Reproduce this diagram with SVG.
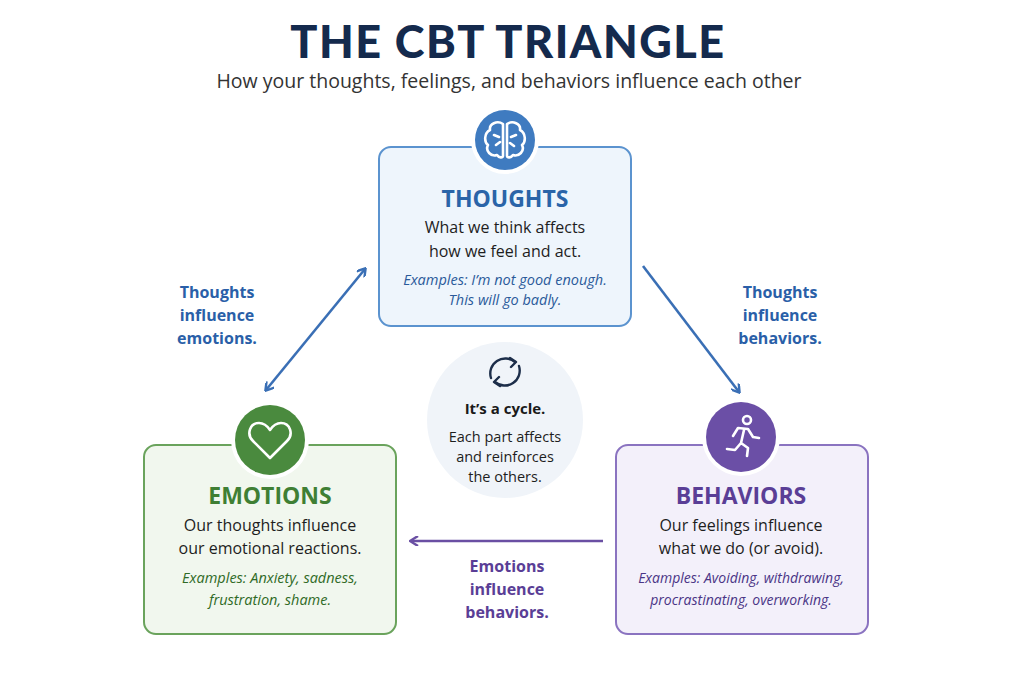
<svg xmlns="http://www.w3.org/2000/svg" width="1024" height="683" viewBox="0 0 1024 683">
<style>
text{font-family:"Open Sans","Liberation Sans",sans-serif;text-anchor:middle}
.ttl{font-size:23px;font-weight:bold}
.body{font-size:16px;fill:#1e1e1e}
.ex{font-size:14.5px;font-style:italic}
.lbl{font-size:16px;font-weight:bold}
.ic{fill:none;stroke:#fff;stroke-width:2.6;stroke-linecap:round;stroke-linejoin:round}
</style>
<defs>
<marker id="ab" markerWidth="10" markerHeight="10" refX="8" refY="5" orient="auto-start-reverse" markerUnits="userSpaceOnUse"><path d="M1,0 L9,5 L1,10" fill="none" stroke="#3a6fb5" stroke-width="2.4"/></marker>
<marker id="ap" markerWidth="10" markerHeight="10" refX="8" refY="5" orient="auto-start-reverse" markerUnits="userSpaceOnUse"><path d="M1,0 L9,5 L1,10" fill="none" stroke="#6a4fa3" stroke-width="2.4"/></marker>
</defs>
<rect width="1024" height="683" fill="#fff"/>
<text x="508" y="58" style="font-family:Lato,sans-serif;font-size:45px;font-weight:900;fill:#142a4d;letter-spacing:1.5px">THE CBT TRIANGLE</text>
<text x="509" y="88" style="font-size:19.5px;fill:#333">How your thoughts, feelings, and behaviors influence each other</text>

<g id="connectors">
<line x1="266" y1="390" x2="365" y2="269" stroke="#3a6fb5" stroke-width="2.6" marker-start="url(#ab)" marker-end="url(#ab)"/>
<line x1="643" y1="266" x2="739" y2="392" stroke="#3a6fb5" stroke-width="2.6" marker-end="url(#ab)"/>
<line x1="603" y1="541" x2="411" y2="541" stroke="#6a4fa3" stroke-width="2.6" marker-end="url(#ap)"/>
<g fill="#2a5fa8"><text x="217" y="298" class="lbl">Thoughts</text><text x="217" y="321" class="lbl">influence</text><text x="217" y="344" class="lbl">emotions.</text>
<text x="780" y="298" class="lbl">Thoughts</text><text x="780" y="321" class="lbl">influence</text><text x="780" y="344" class="lbl">behaviors.</text></g>
<g fill="#5a3e96"><text x="507" y="572" class="lbl">Emotions</text><text x="507" y="595" class="lbl">influence</text><text x="507" y="618" class="lbl">behaviors.</text></g>
</g>

<g id="thoughts">
<rect x="379" y="147" width="252" height="179" rx="12" fill="#eef5fc" stroke="#5b93cf" stroke-width="2"/>
<circle cx="505" cy="140" r="34" fill="#fff"/>
<circle cx="505" cy="140" r="30" fill="#3f7bc0"/>
<path class="ic" d="M503,124 C497,120 489,124 490,130 C484,133 484,142 488,145 C485,151 491,157 497,155 C499,158 503,158 503,156 Z M507,124 C513,120 521,124 520,130 C526,133 526,142 522,145 C525,151 519,157 513,155 C511,158 507,158 507,156 Z M494,135 L499,137 M496,145 L500,142 M516,135 L511,137 M514,146 L510,143"/>
<text x="505" y="207" class="ttl" fill="#2a64a8">THOUGHTS</text>
<text x="505" y="233" class="body">What we think affects</text>
<text x="505" y="257" class="body">how we feel and act.</text>
<text x="505" y="285" class="ex" fill="#2a5a9a">Examples: I’m not good enough.</text>
<text x="505" y="305" class="ex" fill="#2a5a9a">This will go badly.</text>
</g>

<g id="emotions">
<rect x="144" y="445" width="252" height="189" rx="12" fill="#f1f7ee" stroke="#6aa35c" stroke-width="2"/>
<circle cx="270" cy="440" r="39" fill="#fff"/>
<circle cx="270" cy="440" r="35" fill="#4a8a3e"/>
<path class="ic" d="M270,458 L253,441 C246,434 250,423 259,423 C264,423 268,427 270,430 C272,427 276,423 281,423 C290,423 294,434 287,441 Z"/>
<text x="270" y="504" class="ttl" fill="#3f7f34">EMOTIONS</text>
<text x="270" y="531" class="body">Our thoughts influence</text>
<text x="270" y="554" class="body">our emotional reactions.</text>
<text x="270" y="583" class="ex" fill="#2f6a26">Examples: Anxiety, sadness,</text>
<text x="270" y="605" class="ex" fill="#2f6a26">frustration, shame.</text>
</g>

<g id="behaviors">
<rect x="616" y="445" width="252" height="189" rx="12" fill="#f3f0fa" stroke="#8a73c0" stroke-width="2"/>
<circle cx="741" cy="437" r="39" fill="#fff"/>
<circle cx="741" cy="437" r="35" fill="#6b4fa6"/>
<circle class="ic" cx="747" cy="420" r="4"/>
<path class="ic" d="M733,436 L738,428 L748,429 L753,437 L759,438 M744,430 L741,443 L748,448 L747,456 M741,443 L735,450 L727,449"/>
<text x="741" y="504" class="ttl" fill="#5a3e96">BEHAVIORS</text>
<text x="741" y="531" class="body">Our feelings influence</text>
<text x="741" y="554" class="body">what we do (or avoid).</text>
<text x="741" y="583" class="ex" fill="#4a3586" style="font-size:14px">Examples: Avoiding, withdrawing,</text>
<text x="741" y="605" class="ex" fill="#4a3586" style="font-size:14px">procrastinating, overworking.</text>
</g>

<g id="cycle">
<circle cx="505" cy="420" r="78" fill="#f0f4f9"/>
<path d="M491,378 A15,15 0 0 1 515,362 M519,366 A15,15 0 0 1 495,382" fill="none" stroke="#1d2e4a" stroke-width="2.4" stroke-linecap="round"/>
<path d="M510,358 L516,362 L511,367 M500,386 L494,382 L499,377" fill="none" stroke="#1d2e4a" stroke-width="2.4" stroke-linecap="round" stroke-linejoin="round"/>
<text x="505" y="414" style="font-size:15px;font-weight:bold;fill:#1a1a1a">It’s a cycle.</text>
<text x="505" y="442" class="body" style="font-size:14.5px">Each part affects</text>
<text x="505" y="462" class="body" style="font-size:14.5px">and reinforces</text>
<text x="505" y="482" class="body" style="font-size:14.5px">the others.</text>
</g>
</svg>
